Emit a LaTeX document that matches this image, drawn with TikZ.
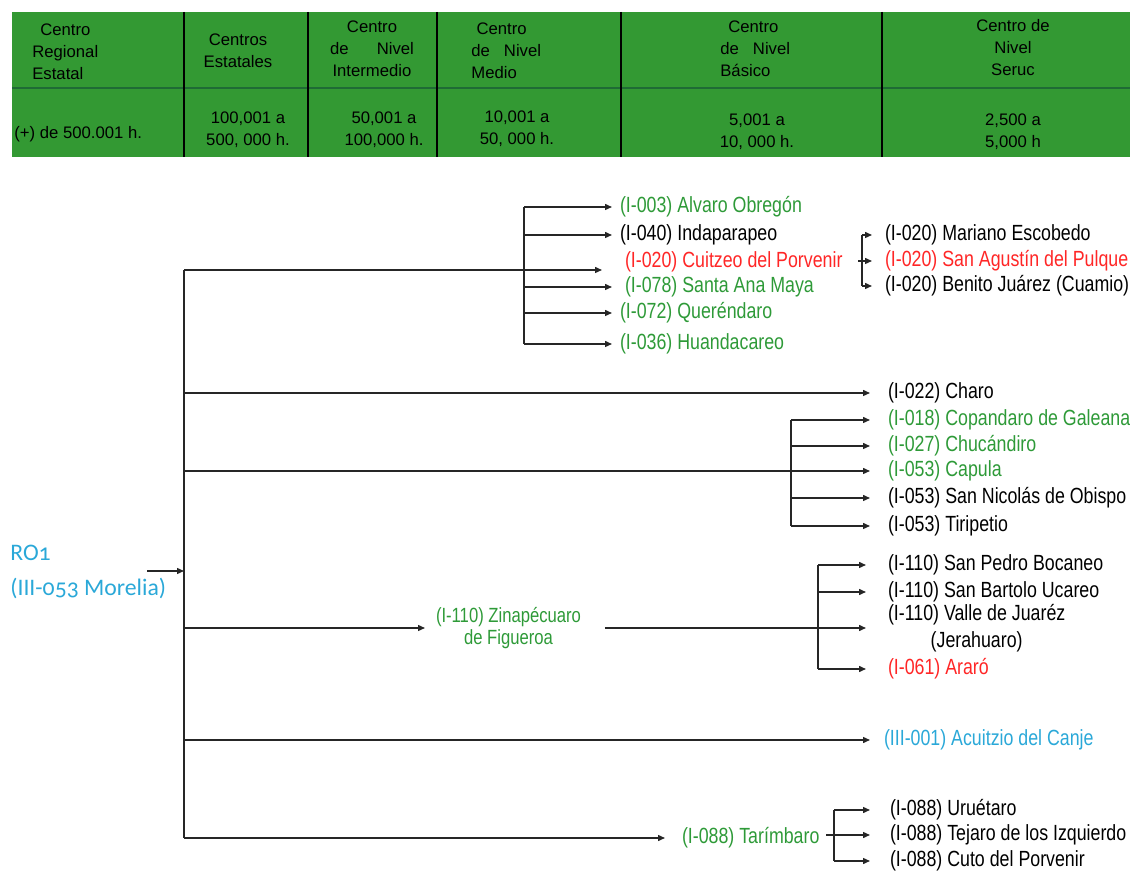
\documentclass[tikz,border=0pt]{standalone}
\usepackage{fontspec}
\setmainfont{Liberation Sans}
\newfontfamily\narrowsf[FakeStretch=0.81]{Liberation Sans}
\newfontfamily\calsf[Numbers=OldStyle]{Carlito}
\usetikzlibrary{arrows.meta,calc}
\definecolor{tabgreen}{HTML}{339933}
\definecolor{tabrule}{HTML}{1F6B35}
\definecolor{locgreen}{HTML}{2E9A38}
\definecolor{locred}{HTML}{FF2626}
\definecolor{loccyan}{HTML}{2AA8D8}
\definecolor{wire}{HTML}{262626}
\tikzset{
  cell/.style={inner sep=0pt, font=\fontsize{9.5}{12.5}\selectfont, align=center},
  loc/.style={anchor=west, inner sep=0pt, outer xsep=#1, font=\narrowsf\fontsize{12.5}{14}\selectfont},
  loc/.default=3.6mm,
  lgrn/.style={text=locgreen},
  lred/.style={text=locred},
  lcyan/.style={text=loccyan},
  ln/.style={line width=0.8pt, color=wire},
  arr/.style={ln, -{Triangle[length=1.4mm,width=1.2mm]}},
}

\begin{document}
\begin{tikzpicture}[x=0.02cm, y=-0.02cm]
  \useasboundingbox (0,0) rectangle (1130,871);
  % table of levels
  \fill[tabgreen] (12,12) rectangle (1130,157);
  \draw[tabrule, line width=1.2pt] (12,88) -- (1130,88);
  \foreach \x in {184,308,437,621,882} { \draw[black, line width=1.2pt] (\x,12) -- (\x,157); }
  \node[cell, align=left, anchor=west] (h1) at (32,52) {\hspace*{4.5pt}Centro\\Regional\\Estatal};
  \node[cell] (h2) at (238,51) {Centros\\Estatales};
  \node[cell] (h3) at (372,49) {Centro\\de\hspace{16pt}Nivel\\Intermedio};
  \node[cell, align=left, anchor=west] (h4) at (471,51) {\hspace*{3pt}Centro\\de\hspace{8pt}Nivel\\Medio};
  \node[cell, align=left, anchor=west] (h5) at (720,49) {\hspace*{4.5pt}Centro\\de\hspace{8pt}Nivel\\Básico};
  \node[cell] (h6) at (1013,48) {Centro de\\Nivel\\Seruc};
  \node[cell, anchor=west] (r1) at (14,134) {(+) de 500.001 h.};
  \node[cell] (r2) at (248,130) {100,001 a\\500, 000 h.};
  \node[cell] (r3) at (384,130) {50,001 a\\100,000 h.};
  \node[cell] (r4) at (517,129) {10,001 a\\50, 000 h.};
  \node[cell] (r5) at (757,132) {5,001 a\\10, 000 h.};
  \node[cell] (r6) at (1013,132) {2,500 a\\5,000 h};

  % root and trunk
  \node[anchor=west, align=left, inner sep=0pt, text=loccyan, font=\calsf\fontsize{13.5}{20}\selectfont] (ro) at (10,572) {RO1\\(III-053 Morelia)};
  \coordinate (tin) at (147,571);
  \coordinate (ttop) at (184,270);
  \node[loc=3.4mm, lgrn] (tar) at (665,838) {(I-088) Tarímbaro};
  \draw[ln] (ttop) -- (ttop |- tar.west);
  \draw[arr] (tin) -- (tin -| ttop);

  % Cuitzeo
  \node[loc=4.6mm, lred] (cui) at (602,262) {(I-020) Cuitzeo del Porvenir};
  \draw[arr] (ttop) -- (ttop -| cui.west);
  \node[loc=1.6mm, lgrn] (alv) at (612,207) {(I-003) Alvaro Obregón};
  \node[loc=1.6mm] (ind) at (612,235) {(I-040) Indaparapeo};
  \node[loc=2.6mm, lgrn] (sam) at (612,287) {(I-078) Santa Ana Maya};
  \node[loc=1.6mm, lgrn] (que) at (612,313) {(I-072) Queréndaro};
  \node[loc=1.6mm, lgrn] (hua) at (612,344) {(I-036) Huandacareo};
  \coordinate (k1) at (524,207);
  \draw[ln] (k1) -- (k1 |- hua.west);
  \foreach \n in {alv,ind,sam,que,hua} { \draw[arr] (k1 |- \n.west) -- (\n.west); }
  \node[loc=2.6mm] (mar) at (872,235) {(I-020) Mariano Escobedo};
  \node[loc=2.6mm, lred] (sag) at (872,261) {(I-020) San Agustín del Pulque};
  \node[loc=2.6mm] (ben) at (872,286) {(I-020) Benito Juárez (Cuamio)};
  \coordinate (k2) at (862,235);
  \draw[ln] (k2) -- (k2 |- ben.west);
  \draw[arr] (k2) -- (mar.west);
  \draw[arr] ($(k2 |- sag.west)+(-4,0)$) -- (sag.west);
  \draw[arr] (k2 |- ben.west) -- (ben.west);

  % Charo, Capula
  \node[loc] (cha) at (870,393) {(I-022) Charo};
  \draw[arr] (ttop |- cha.west) -- (cha.west);
  \node[loc, lgrn] (cop) at (870,420) {(I-018) Copandaro de Galeana};
  \node[loc, lgrn] (chu) at (870,446) {(I-027) Chucándiro};
  \node[loc, lgrn] (cap) at (870,471) {(I-053) Capula};
  \node[loc] (sni) at (870,498) {(I-053) San Nicolás de Obispo};
  \node[loc] (tir) at (870,526) {(I-053) Tiripetio};
  \coordinate (k3) at (791,420);
  \draw[ln] (k3) -- (k3 |- tir.west);
  \foreach \n in {cop,chu,sni,tir} { \draw[arr] (k3 |- \n.west) -- (\n.west); }
  \draw[arr] (ttop |- cap.west) -- (cap.west);

  % Zinapecuaro
  \node[loc=2.2mm, lgrn, align=center, font=\narrowsf\fontsize{11.7}{13}\selectfont] (zin) at (425,628) {(I-110) Zinapécuaro\\de Figueroa};
  \draw[arr] (ttop |- zin.west) -- (zin.west);
  \node[loc=4.4mm] (spb) at (866,565) {(I-110) San Pedro Bocaneo};
  \node[loc=4.4mm] (sbu) at (866,592) {(I-110) San Bartolo Ucareo};
  \node[loc=4.4mm, align=center, font=\narrowsf\fontsize{12.5}{15.3}\selectfont] (vdj) at (866,628) {(I-110) Valle de Juaréz\\(Jerahuaro)};
  \node[loc=4.4mm, lred] (ara) at (866,669) {(I-061) Araró};
  \coordinate (k4) at (818,565);
  \draw[ln] (k4) -- (k4 |- ara.west);
  \foreach \n in {spb,sbu,ara} { \draw[arr] (k4 |- \n.west) -- (\n.west); }
  \draw[arr] ($(zin.east)+(13,0)$) -- (zin.east -| vdj.west);

  % Acuitzio
  \node[loc=2.8mm, lcyan] (acu) at (870,740) {(III-001) Acuitzio del Canje};
  \draw[arr] (ttop |- acu.west) -- (acu.west);

  % Tarimbaro
  \draw[arr] (ttop |- tar.west) -- (tar.west);
  \node[loc=4mm] (uru) at (870,810) {(I-088) Uruétaro};
  \node[loc=4mm] (tej) at (870,835) {(I-088) Tejaro de los Izquierdo};
  \node[loc=4mm] (cut) at (870,861) {(I-088) Cuto del Porvenir};
  \coordinate (k5) at (834,810);
  \draw[ln] (k5) -- (k5 |- cut.west);
  \foreach \n in {uru,cut} { \draw[arr] (k5 |- \n.west) -- (\n.west); }
  \draw[arr] ($(k5 |- tej.west)+(-8,0)$) -- (tej.west);
\end{tikzpicture}
\end{document}
